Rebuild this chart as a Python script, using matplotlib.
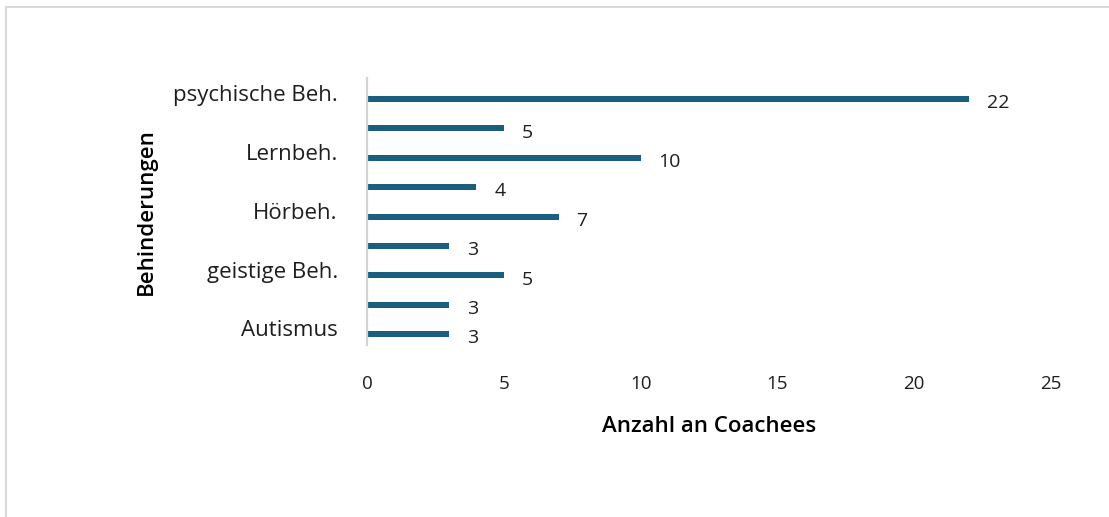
import matplotlib
matplotlib.use("Agg")
import matplotlib.pyplot as plt
from matplotlib.patches import Rectangle
import numpy as np

categories = ["Autismus", "geistige Beh.", "Hörbeh.", "Lernbeh.", "psychische Beh."]
series_lower = [3, 5, 7, 10, 22]
series_upper = [3, 3, 4, 5, None]
x_ticks = [0, 5, 10, 15, 20, 25]
x_label = "Anzahl an Coachees"
y_label = "Behinderungen"

bar_color = "#1b5f80"
text_color = "#1e1e1e"
font = "Open Sans"

W, H = 1109, 517
fig = plt.figure(figsize=(W / 100, H / 100), dpi=100)
fig.patch.set_facecolor("white")

# outer chart-area border (top & left visible)
fig.add_artist(Rectangle((6 / W, -0.1), 1.2, 1 - 7 / H + 0.1, transform=fig.transFigure,
                         fill=False, edgecolor="#d9d9d9", linewidth=1.5))

ax = fig.add_axes([367 / W, 1 - 345 / H, (1051 - 367) / W, (345 - 78) / H])

idx = np.arange(len(categories))
off = 0.25
bh = 0.1

for i, v in enumerate(series_lower):
    if v is None:
        continue
    ax.barh(idx[i] - off, v, height=bh, color=bar_color)
    ax.annotate(str(v), (v, idx[i] - off), xytext=(13, -3), textcoords="offset points",
                ha="left", va="center", fontsize=14, color=text_color, family=font)
for i, v in enumerate(series_upper):
    if v is None:
        continue
    ax.barh(idx[i] + off, v, height=bh, color=bar_color)
    ax.annotate(str(v), (v, idx[i] + off), xytext=(13, -3), textcoords="offset points",
                ha="left", va="center", fontsize=14, color=text_color, family=font)

ax.set_xlim(0, 25)
ax.set_ylim(-0.434, 4.107)
ax.set_xticks(x_ticks)
ax.set_xticklabels([str(t) for t in x_ticks], fontsize=13.5, color=text_color, family=font)
ax.set_yticks(idx - 0.15)
ax.set_yticklabels(categories, fontsize=16, color=text_color, family=font)
ax.tick_params(axis="x", length=0, pad=21.5)
ax.tick_params(axis="y", length=0, pad=21)

for s in ["top", "right", "bottom"]:
    ax.spines[s].set_visible(False)
ax.spines["left"].set_color("#d4d4d4")
ax.spines["left"].set_linewidth(1.6)

ax.set_xlabel(x_label, fontsize=16, color="black", family=font, fontweight="semibold", labelpad=17)
ax.set_ylabel(y_label, fontsize=16, color="black", family=font, fontweight="semibold", labelpad=12)

fig.savefig("out.png", dpi=100)
